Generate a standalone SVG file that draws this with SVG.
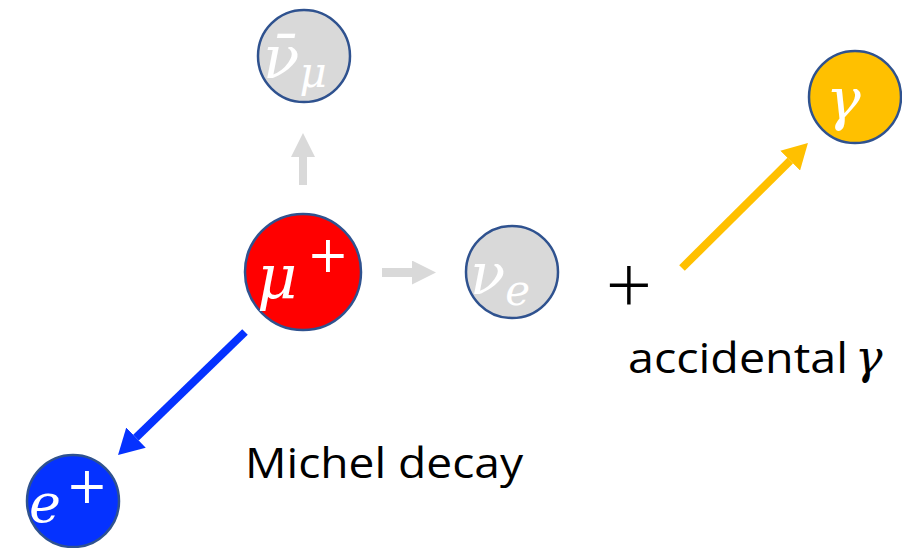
<svg xmlns="http://www.w3.org/2000/svg" width="902" height="548" viewBox="0 0 902 548">
<style>
.node{stroke:#2F528F;stroke-width:2.5}
.gray{fill:#D9D9D9}
.math{font-family:"DejaVu Serif","Liberation Serif",serif;font-style:italic;fill:#fff}
.up{font-family:"DejaVu Serif","Liberation Serif",serif;font-style:normal;fill:#fff}
.lbl{font-family:"Open Sans","Liberation Sans",sans-serif;font-size:42px;fill:#000}
</style>
<defs>
<marker id="hg" viewBox="0 0 24 24" refX="0" refY="12" markerUnits="userSpaceOnUse" markerWidth="24" markerHeight="24" orient="auto"><path d="M0,0 L24,12 L0,24 z" fill="#D9D9D9"/></marker>
<marker id="hb" viewBox="0 0 25 28" refX="0" refY="14" markerUnits="userSpaceOnUse" markerWidth="25" markerHeight="28" orient="auto"><path d="M0,0 L25,14 L0,28 z" fill="#0532FF"/></marker>
<marker id="ho" viewBox="0 0 25 28" refX="0" refY="14" markerUnits="userSpaceOnUse" markerWidth="25" markerHeight="28" orient="auto"><path d="M0,0 L25,14 L0,28 z" fill="#FFC000"/></marker>
</defs>
<g id="connectors" fill="none">
<line x1="303" y1="185" x2="303" y2="157" stroke="#D9D9D9" stroke-width="8" marker-end="url(#hg)"/>
<line x1="382" y1="272.5" x2="412" y2="272.5" stroke="#D9D9D9" stroke-width="9" marker-end="url(#hg)"/>
<line x1="245" y1="332" x2="136" y2="437.6" stroke="#0532FF" stroke-width="8" marker-end="url(#hb)"/>
<line x1="682" y1="268" x2="790.2" y2="160.6" stroke="#FFC000" stroke-width="8" marker-end="url(#ho)"/>
</g>
<g id="nubar_mu">
<circle class="node gray" cx="304" cy="56" r="46"/>
<text class="math" x="263" y="78" font-size="60">ν̄<tspan font-size="42" dy="9">μ</tspan></text>
</g>
<g id="mu_plus">
<circle class="node" cx="303" cy="272" r="58" fill="#FF0000"/>
<text class="math" x="257" y="298" font-size="62">μ</text>
<text class="up" x="307" y="272" font-size="50">+</text>
</g>
<g id="nu_e">
<circle class="node gray" cx="512" cy="272" r="46"/>
<text class="math" x="470" y="294" font-size="58">ν<tspan font-size="42" dy="11">e</tspan></text>
</g>
<g id="e_plus">
<circle class="node" cx="73" cy="501" r="46" fill="#0532FF"/>
<text class="math" x="29" y="522" font-size="54">e</text>
<text class="up" x="66" y="503" font-size="50">+</text>
</g>
<g id="gamma">
<circle class="node" cx="855" cy="97" r="46" fill="#FFC000"/>
<text class="math" x="826" y="119" font-size="58">γ</text>
</g>
<g id="labels">
<text class="lbl" x="629" y="314" text-anchor="middle" style="font-size:82px;font-weight:300">+</text>
<text class="lbl" x="628" y="373" textLength="220" lengthAdjust="spacingAndGlyphs">accidental</text>
<text class="math" x="855" y="373" font-size="46" style="fill:#000">γ</text>
<text class="lbl" x="245" y="478" textLength="278" lengthAdjust="spacingAndGlyphs">Michel decay</text>
</g>
</svg>
